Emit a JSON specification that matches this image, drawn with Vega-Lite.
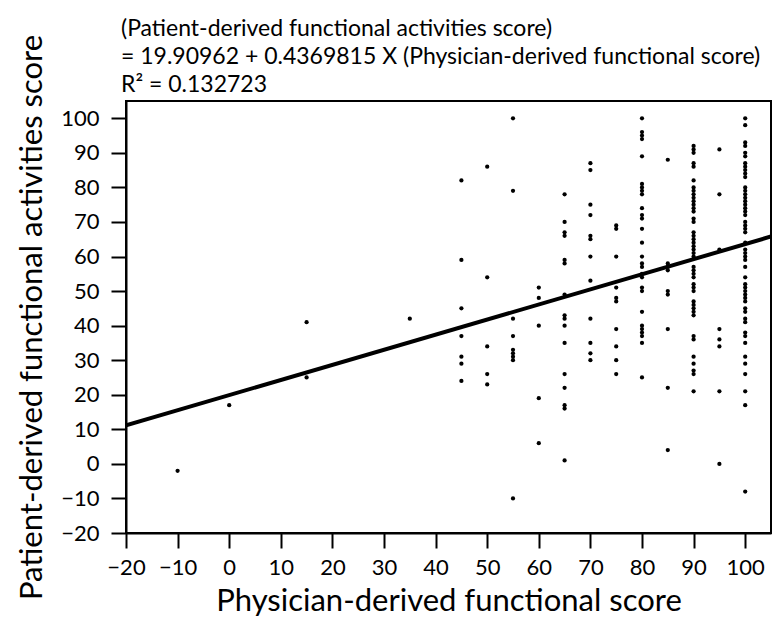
{
  "$schema": "https://vega.github.io/schema/vega-lite/v6.json",
  "width": 645,
  "height": 432,
  "autosize": {"type": "none"},
  "padding": {"left": 126, "top": 101, "right": 3, "bottom": 100},
  "background": "white",
  "config": {
    "font": "Lato",
    "view": {"stroke": "black", "strokeWidth": 2},
    "axis": {
      "domainColor": "black", "domainWidth": 2, "tickColor": "black", "tickWidth": 2, "tickSize": 15,
      "labelColor": "black", "labelFontSize": 22, "labelFont": "Lato", "titleFont": "Lato",
      "labelFlush": false, "labelOverlap": false, "labelBound": false,
      "titleFontSize": 31, "titleFontWeight": "normal", "titleColor": "black", "grid": false
    }
  },
  "title": {
    "text": ["(Patient-derived functional activities score)", "= 19.90962 + 0.4369815 X (Physician-derived functional score)", "R² = 0.132723"],
    "anchor": "start", "frame": "group", "dx": -5, "offset": 0, "dy": 63, "fontSize": 23, "fontWeight": "normal",
    "lineHeight": 28, "color": "black", "font": "Lato"
  },
  "datasets": {
    "pts": [
      {"x": -10, "y": -2}, {"x": 0, "y": 17}, {"x": 15, "y": 41}, {"x": 15, "y": 25}, {"x": 35, "y": 42},
      {"x": 45, "y": 82}, {"x": 45, "y": 59}, {"x": 45, "y": 45}, {"x": 45, "y": 37}, {"x": 45, "y": 31}, {"x": 45, "y": 29}, {"x": 45, "y": 24},
      {"x": 50, "y": 86}, {"x": 50, "y": 54}, {"x": 50, "y": 34}, {"x": 50, "y": 26}, {"x": 50, "y": 23},
      {"x": 55, "y": 100}, {"x": 55, "y": 79}, {"x": 55, "y": 42}, {"x": 55, "y": 37}, {"x": 55, "y": 33}, {"x": 55, "y": 32}, {"x": 55, "y": 31}, {"x": 55, "y": 30}, {"x": 55, "y": -10},
      {"x": 60, "y": 51}, {"x": 60, "y": 48}, {"x": 60, "y": 40}, {"x": 60, "y": 19}, {"x": 60, "y": 6},
      {"x": 65, "y": 78}, {"x": 65, "y": 70}, {"x": 65, "y": 67}, {"x": 65, "y": 66}, {"x": 65, "y": 59}, {"x": 65, "y": 58}, {"x": 65, "y": 49}, {"x": 65, "y": 43}, {"x": 65, "y": 42}, {"x": 65, "y": 40}, {"x": 65, "y": 35}, {"x": 65, "y": 26}, {"x": 65, "y": 22}, {"x": 65, "y": 17}, {"x": 65, "y": 16}, {"x": 65, "y": 1},
      {"x": 70, "y": 87}, {"x": 70, "y": 85}, {"x": 70, "y": 75}, {"x": 70, "y": 72}, {"x": 70, "y": 66}, {"x": 70, "y": 65}, {"x": 70, "y": 60}, {"x": 70, "y": 53}, {"x": 70, "y": 42}, {"x": 70, "y": 35}, {"x": 70, "y": 32}, {"x": 70, "y": 30},
      {"x": 75, "y": 69}, {"x": 75, "y": 68}, {"x": 75, "y": 60}, {"x": 75, "y": 51}, {"x": 75, "y": 48}, {"x": 75, "y": 47}, {"x": 75, "y": 39}, {"x": 75, "y": 34}, {"x": 75, "y": 30}, {"x": 75, "y": 26},
      {"x": 80, "y": 100}, {"x": 80, "y": 96}, {"x": 80, "y": 95}, {"x": 80, "y": 94}, {"x": 80, "y": 89}, {"x": 80, "y": 81}, {"x": 80, "y": 80}, {"x": 80, "y": 79}, {"x": 80, "y": 78}, {"x": 80, "y": 74}, {"x": 80, "y": 72}, {"x": 80, "y": 71}, {"x": 80, "y": 68}, {"x": 80, "y": 64}, {"x": 80, "y": 60}, {"x": 80, "y": 58}, {"x": 80, "y": 57}, {"x": 80, "y": 55}, {"x": 80, "y": 54}, {"x": 80, "y": 51}, {"x": 80, "y": 50}, {"x": 80, "y": 44}, {"x": 80, "y": 40}, {"x": 80, "y": 39}, {"x": 80, "y": 38}, {"x": 80, "y": 37}, {"x": 80, "y": 35}, {"x": 80, "y": 25},
      {"x": 85, "y": 88}, {"x": 85, "y": 58}, {"x": 85, "y": 57}, {"x": 85, "y": 56}, {"x": 85, "y": 50}, {"x": 85, "y": 49}, {"x": 85, "y": 39}, {"x": 85, "y": 22}, {"x": 85, "y": 4},
      {"x": 90, "y": 92}, {"x": 90, "y": 91}, {"x": 90, "y": 90}, {"x": 90, "y": 87}, {"x": 90, "y": 86}, {"x": 90, "y": 82}, {"x": 90, "y": 80}, {"x": 90, "y": 79}, {"x": 90, "y": 78}, {"x": 90, "y": 77}, {"x": 90, "y": 76}, {"x": 90, "y": 75}, {"x": 90, "y": 74}, {"x": 90, "y": 73}, {"x": 90, "y": 71}, {"x": 90, "y": 70}, {"x": 90, "y": 67}, {"x": 90, "y": 66}, {"x": 90, "y": 65}, {"x": 90, "y": 64}, {"x": 90, "y": 63}, {"x": 90, "y": 62}, {"x": 90, "y": 61}, {"x": 90, "y": 60}, {"x": 90, "y": 57}, {"x": 90, "y": 56}, {"x": 90, "y": 55}, {"x": 90, "y": 54}, {"x": 90, "y": 52}, {"x": 90, "y": 51}, {"x": 90, "y": 50}, {"x": 90, "y": 47}, {"x": 90, "y": 46}, {"x": 90, "y": 45}, {"x": 90, "y": 44}, {"x": 90, "y": 43}, {"x": 90, "y": 37}, {"x": 90, "y": 36}, {"x": 90, "y": 31}, {"x": 90, "y": 29}, {"x": 90, "y": 27}, {"x": 90, "y": 26}, {"x": 90, "y": 21},
      {"x": 95, "y": 91}, {"x": 95, "y": 78}, {"x": 95, "y": 62}, {"x": 95, "y": 39}, {"x": 95, "y": 36}, {"x": 95, "y": 34}, {"x": 95, "y": 21}, {"x": 95, "y": 0},
      {"x": 100, "y": 100}, {"x": 100, "y": 98}, {"x": 100, "y": 93}, {"x": 100, "y": 92}, {"x": 100, "y": 90}, {"x": 100, "y": 89}, {"x": 100, "y": 87}, {"x": 100, "y": 86}, {"x": 100, "y": 85}, {"x": 100, "y": 84}, {"x": 100, "y": 83}, {"x": 100, "y": 80}, {"x": 100, "y": 79}, {"x": 100, "y": 78}, {"x": 100, "y": 77}, {"x": 100, "y": 76}, {"x": 100, "y": 75}, {"x": 100, "y": 74}, {"x": 100, "y": 73}, {"x": 100, "y": 72}, {"x": 100, "y": 70}, {"x": 100, "y": 69}, {"x": 100, "y": 68}, {"x": 100, "y": 67}, {"x": 100, "y": 64}, {"x": 100, "y": 62}, {"x": 100, "y": 61}, {"x": 100, "y": 60}, {"x": 100, "y": 59}, {"x": 100, "y": 57}, {"x": 100, "y": 54}, {"x": 100, "y": 52}, {"x": 100, "y": 51}, {"x": 100, "y": 50}, {"x": 100, "y": 49}, {"x": 100, "y": 48}, {"x": 100, "y": 47}, {"x": 100, "y": 45}, {"x": 100, "y": 44}, {"x": 100, "y": 42}, {"x": 100, "y": 41}, {"x": 100, "y": 38}, {"x": 100, "y": 37}, {"x": 100, "y": 35}, {"x": 100, "y": 31}, {"x": 100, "y": 29}, {"x": 100, "y": 26}, {"x": 100, "y": 21}, {"x": 100, "y": 17}, {"x": 100, "y": -8}
    ],
    "fit": [{"x": -20, "y": 11.17}, {"x": 105, "y": 65.79}]
  },
  "encoding": {
    "x": {"field": "x", "type": "quantitative",
          "scale": {"domain": [-20, 105], "nice": false, "zero": false},
          "axis": {"values": [-20, -10, 0, 10, 20, 30, 40, 50, 60, 70, 80, 90, 100], "labelOverlap": false, "title": "Physician-derived functional score", "labelPadding": 9, "titlePadding": 8}},
    "y": {"field": "y", "type": "quantitative",
          "scale": {"domain": [-20, 105], "nice": false, "zero": false},
          "axis": {"values": [-20, -10, 0, 10, 20, 30, 40, 50, 60, 70, 80, 90, 100], "labelOverlap": false, "title": "Patient-derived functional activities score", "labelPadding": 12, "titlePadding": 12}}
  },
  "layer": [
    {
      "data": {"name": "pts"},
      "mark": {"type": "circle", "size": 18, "color": "black", "opacity": 1}
    },
    {
      "data": {"name": "fit"},
      "mark": {"type": "line", "color": "black", "strokeWidth": 4, "clip": true}
    }
  ]
}
